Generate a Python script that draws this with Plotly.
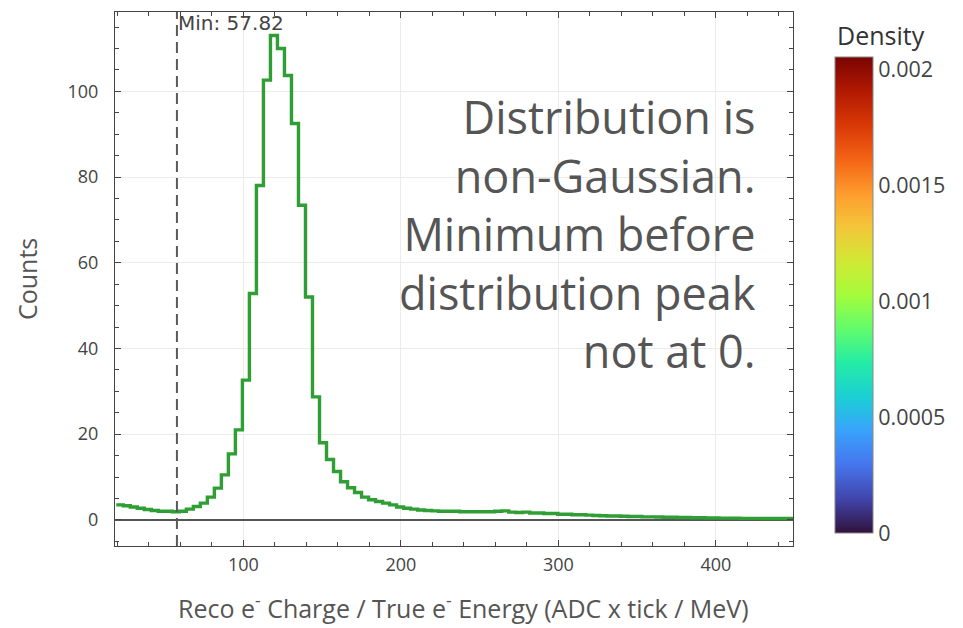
import plotly.graph_objects as go

# ---- data ----
bin_start = 19.3
bin_width = 4.45
counts = [
    3.5, 3.3, 3.0, 2.7, 2.4, 2.2, 2.0, 2.0, 1.9, 2.0, 2.5, 3.1, 3.9, 5.3, 7.4, 10.5,
    15.4, 21.0, 32.6, 52.8, 78.0, 102.6, 113.0, 110.0, 103.7, 92.5, 73.4, 52.0, 28.7, 18.0, 14.1, 11.3,
    8.9, 7.5, 6.4, 5.3, 4.7, 4.3, 3.9, 3.5, 3.0, 2.7, 2.5, 2.3, 2.2, 2.1,
    2.0, 2.0, 2.0, 1.9, 1.9, 1.9, 1.9, 1.9, 2.0, 2.1,
    1.8, 1.7, 1.8, 1.6, 1.6, 1.5, 1.5, 1.3, 1.3, 1.2, 1.2, 1.1,
    1.0, 0.95, 0.9, 0.9, 0.85, 0.8, 0.8,
    0.7, 0.7, 0.65, 0.6, 0.6, 0.55, 0.55, 0.5,
    0.5, 0.45, 0.45, 0.4, 0.4, 0.4, 0.35, 0.35, 0.35, 0.3, 0.3, 0.3, 0.3, 0.3,
]
min_value = 57.82
density_ticks = [0, 0.0005, 0.001, 0.0015, 0.002]
density_ticktext = ["0", "0.0005", "0.001", "0.0015", "0.002"]
density_max = 0.002056
note_lines = ["Distribution is", "non-Gaussian.", "Minimum before", "distribution peak", "not at 0."]
x_title = "Reco e<sup>-</sup> Charge / True e<sup>-</sup> Energy (ADC x tick / MeV)"
y_title = "Counts"

edges = [bin_start + i * bin_width for i in range(len(counts) + 1)]
step_y = counts + [counts[-1]]

W, H = 963, 628
L, R, T, B = 115, 170, 12, 82
PW, PH = W - L - R, H - T - B


def px_x(px):
    return (px - L) / PW


def px_y(py):
    return (H - B - py) / PH


TITLE_FONT = dict(family="Open Sans", size=25, color="#555")

fig = go.Figure()
fig.add_trace(go.Scatter(
    x=edges, y=step_y, mode="lines", line=dict(color="#2e9e35", width=3.4, shape="hv"),
    showlegend=False, hoverinfo="skip"))

# colorbar carrier
fig.add_trace(go.Scatter(
    x=[None], y=[None], mode="markers", showlegend=False,
    marker=dict(color=[0], colorscale="Turbo", cmin=0, cmax=density_max, showscale=True,
                colorbar=dict(
                    x=px_x(835), xanchor="left", xpad=0,
                    y=(px_y(57) + px_y(533)) / 2, yanchor="middle", ypad=0,
                    lenmode="fraction", len=px_y(57) - px_y(533), thickness=38,
                    outlinecolor="#888", outlinewidth=1,
                    tickvals=density_ticks, ticktext=density_ticktext,
                    ticks="", ticklabelposition="outside",
                    tickfont=dict(family="Open Sans", size=21.5, color="#444"),
                ))))

fig.add_annotation(x=px_x(881), y=px_y(35), xref="paper", yref="paper", text="Density",
                   showarrow=False, xanchor="center", yanchor="middle",
                   font=dict(family="Open Sans", size=25, color="#333"))

fig.add_shape(type="line", x0=min_value, x1=min_value, xref="x", yref="paper", y0=0, y1=1,
              line=dict(color="#5a5a5a", width=2, dash="11px,6px"))
fig.add_annotation(x=min_value, xref="x", y=px_y(23), yref="paper",
                   text=f"Min: {min_value:.2f}", showarrow=False, xanchor="left", yanchor="middle",
                   xshift=-1, font=dict(family="DejaVu Sans", size=20, color="#444"))

fig.add_annotation(xref="paper", yref="paper",
                   x=px_x(758), y=px_y(233),
                   xanchor="right", yanchor="middle", align="right",
                   text="<br>".join(note_lines), showarrow=False,
                   font=dict(family="Open Sans", size=45, color="#555"))

# axis titles
fig.add_annotation(xref="paper", yref="paper", x=px_x(463), y=px_y(606),
                   xanchor="center", yanchor="middle", text=x_title, showarrow=False,
                   font=TITLE_FONT)
fig.add_annotation(xref="paper", yref="paper", x=px_x(27), y=px_y(279),
                   xanchor="center", yanchor="middle", text=y_title, showarrow=False,
                   textangle=-90, font=TITLE_FONT)

axis_common = dict(
    showline=True, linecolor="#444", linewidth=1.2, mirror="ticks",
    ticks="inside", ticklen=6, tickcolor="#444",
    showgrid=True, gridcolor="#ebebeb", gridwidth=1,
    tickfont=dict(family="Open Sans", size=18, color="#444"),
    automargin=False,
)
fig.update_xaxes(**axis_common, range=[18.5, 449], tickvals=[100, 200, 300, 400],
                 minor=dict(dtick=20, tick0=0, ticks="inside", ticklen=4, tickcolor="#444", showgrid=False),
                 zeroline=False, ticklabelstandoff=2)
fig.update_yaxes(**axis_common, range=[-6.1, 118.5], tickvals=[0, 20, 40, 60, 80, 100],
                 minor=dict(dtick=5, tick0=0, ticks="inside", ticklen=4, tickcolor="#444", showgrid=False),
                 zeroline=True, zerolinecolor="#555", zerolinewidth=1.5, ticklabelstandoff=12)

fig.update_layout(width=W, height=H, margin=dict(l=L, r=R, t=T, b=B),
                  paper_bgcolor="white", plot_bgcolor="white")
fig.write_html("out.html")
